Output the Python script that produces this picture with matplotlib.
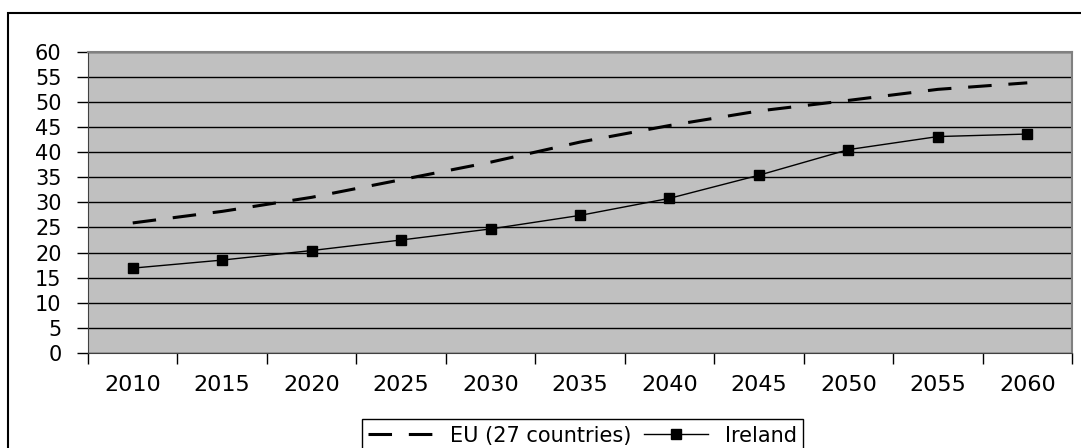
import matplotlib
matplotlib.use('Agg')
import matplotlib.pyplot as plt
from matplotlib.patches import Rectangle

years = ['2010', '2015', '2020', '2025', '2030', '2035', '2040', '2045', '2050', '2055', '2060']
eu27 = [25.9, 28.2, 31.0, 34.5, 38.0, 42.0, 45.3, 48.2, 50.3, 52.5, 53.8]
ireland = [16.9, 18.5, 20.4, 22.5, 24.7, 27.4, 30.8, 35.4, 40.5, 43.1, 43.6]

plt.rcParams['font.family'] = ['DejaVu Sans']

fig = plt.figure(figsize=(10.81, 4.48), dpi=100)
ax = fig.add_axes([0.0814, 0.2121, 0.9103, 0.6725])
ax.set_facecolor('#c0c0c0')

x = list(range(len(years)))
ax.plot(x, eu27, color='black', linewidth=2.2, dashes=(7.7, 5.5), label='EU (27 countries)')
ax.plot(x, ireland, color='black', linewidth=1.0, marker='s', markersize=7, label='Ireland')

ax.set_xlim(-0.5, len(years) - 0.5)
ax.set_ylim(0, 60)
ax.set_yticks(range(0, 61, 5))
ax.yaxis.grid(True, color='black', linewidth=1)
ax.set_axisbelow(True)

# ticks at category boundaries, labels at centres
ax.set_xticks([i - 0.5 for i in range(len(years) + 1)])
ax.set_xticklabels([])
ax.set_xticks(x, minor=True)
ax.set_xticklabels(years, minor=True, fontsize=16)
ax.tick_params(axis='x', which='major', direction='out', length=8, width=1, color='black')
ax.tick_params(axis='x', which='minor', length=0, pad=16)
ax.tick_params(axis='y', direction='out', length=8, width=1, color='black', labelsize=15, pad=11)

for side in ['top', 'right']:
    ax.spines[side].set_color('#808080')
    ax.spines[side].set_linewidth(1.5)
ax.spines['left'].set_color('#404040')
ax.spines['bottom'].set_color('#404040')

leg = fig.legend(loc='upper center', bbox_to_anchor=(0.539, 0.064), ncol=2, fontsize=15,
                 frameon=True, fancybox=False, edgecolor='black', framealpha=1,
                 handlelength=3.1, handletextpad=0.8, columnspacing=0.6, borderpad=0.3,
                 borderaxespad=0)
leg.get_frame().set_linewidth(1)

# outer chart border
fig.patches.append(Rectangle((0.0074, -0.2), 1.2, 0.971 + 0.2, transform=fig.transFigure,
                             fill=False, edgecolor='black', linewidth=1.5))

fig.savefig('out.png', dpi=100)
